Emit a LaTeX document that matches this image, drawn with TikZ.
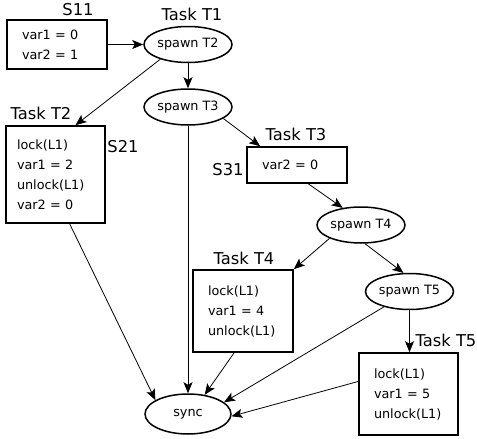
\documentclass[tikz,border=0pt]{standalone}
\usepackage{fontspec}
\setmainfont{DejaVu Sans}
\usetikzlibrary{shapes.geometric,arrows.meta}
\begin{document}
\begin{tikzpicture}[x=1pt,y=-1pt,
  boxnode/.style={draw,line width=1.6pt,align=left,inner xsep=15pt,inner ysep=0pt,
    font=\fontsize{12.8}{20}\selectfont},
  ellnode/.style={draw,ellipse,line width=1.5pt,minimum width=88pt,minimum height=36pt,
    inner sep=0pt,font=\fontsize{12.8}{15}\selectfont},
  lbl/.style={inner sep=0pt,font=\fontsize{16.3}{19}\selectfont},
  conn/.style={line width=0.8pt,-{Stealth[length=11pt,width=9pt,inset=2.5pt]}}]
\useasboundingbox (0,0) rectangle (477,439);

% boxes
\node[boxnode,text width=70pt,minimum height=49pt] (s11) at (57,44.5) {var1 = 0\\var2 = 1};
\node[boxnode,inner xsep=11pt,text width=77pt,minimum height=97pt] (t2box) at (55.5,174.5)
  {lock(L1)\\var1 = 2\\unlock(L1)\\var2 = 0};
\node[boxnode,text width=70pt,minimum height=36pt] (t3box) at (297,165) {var2 = 0};
\node[boxnode,text width=70pt,minimum height=82pt] (t4box) at (243,311)
  {lock(L1)\\var1 = 4\\unlock(L1)};
\node[boxnode,text width=69pt,minimum height=82pt] (t5box) at (408.5,394)
  {lock(L1)\\var1 = 5\\unlock(L1)};

% ellipses
\node[ellnode] (t1) at (188,44.5) {spawn T2};
\node[ellnode] (t3sp) at (188,107) {spawn T3};
\node[ellnode] (t4sp) at (361,225) {spawn T4};
\node[ellnode] (t5sp) at (409.5,291.5) {spawn T5};
\node[ellnode,minimum width=86pt,minimum height=40pt] (sync) at (188,414) {sync};

% labels
\node[lbl] (ls11) at (78,10) {S11};
\node[lbl] (lt1) at (192,14) {Task T1};
\node[lbl] (lt2) at (41,113) {Task T2};
\node[lbl] (ls21) at (123,147) {S21};
\node[lbl] (lt3) at (296,134) {Task T3};
\node[lbl] (ls31) at (228,170) {S31};
\node[lbl] (lt4) at (244,258) {Task T4};
\node[lbl] (lt5) at (446,340) {Task T5};

% connectors
\draw[conn] (s11) -- (t1);
\draw[conn] (t1.208) -- (t2box.68);
\draw[conn] (t1) -- (t3sp);
\draw[conn] (t3sp.-18) -- (t3box.153);
\draw[conn] (t3box.-59) -- (t4sp.137);
\draw[conn] (t4sp.203) -- (t4box.north east);
\draw[conn] (t4sp.-78) -- (t5sp.108);
\draw[conn] (t5sp.south) -- (t5sp.south |- t5box.north);
\draw[conn] (t3sp) -- (sync);
\draw[conn] (t2box.-74) -- (sync.157);
\draw[conn] (t4box.-102) -- (sync.49);
\draw[conn] (t5sp.211) -- (sync.18);
\draw[conn] (t5box.166) -- (sync.-3);
\end{tikzpicture}
\end{document}
